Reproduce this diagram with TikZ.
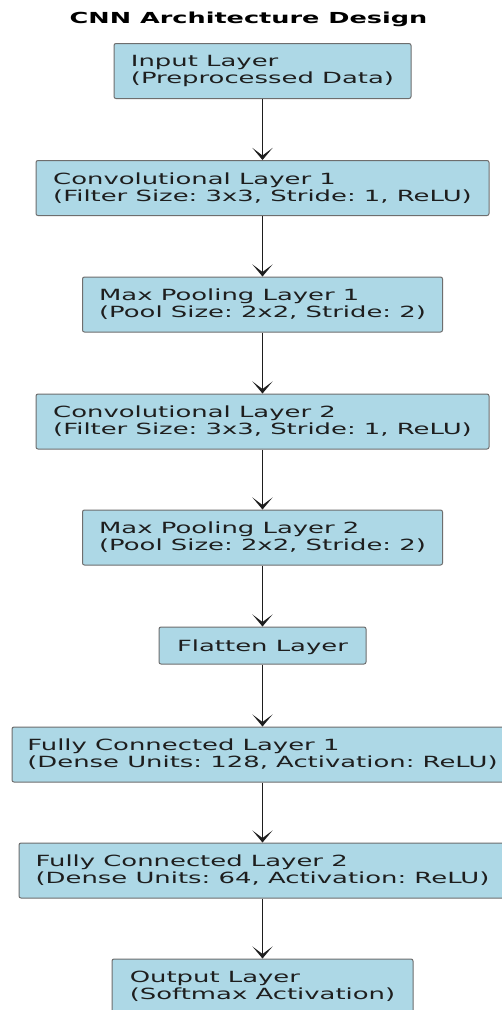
\documentclass[tikz,border=0pt]{standalone}
\usepackage{fontspec}
\setmainfont{DejaVu Sans}[FakeStretch=1.68]
\frenchspacing
\usetikzlibrary{arrows.meta}
\definecolor{boxfill}{HTML}{ADD8E6}
\definecolor{boxline}{HTML}{6E6E6E}
\definecolor{ink}{HTML}{1E1E1E}
\tikzset{
  layer/.style={draw=boxline, fill=boxfill, line width=1pt, rounded corners=2pt,
    minimum height=55pt, align=left, text=ink, inner sep=0pt,
    font=\fontsize{15.4}{17}\selectfont,
    execute at begin node={\rule{0pt}{15pt}}},
  flow/.style={draw=ink, line width=1.6pt,
    -{Stealth[length=12pt,width=20pt,inset=7.5pt]}},
}
\begin{document}
\begin{tikzpicture}[x=1pt,y=-1pt]
\useasboundingbox (0,0) rectangle (502,1010);
\clip (0,0) rectangle (502,1010);
\fill[white] (0,0) rectangle (502,1010);

\node[font=\bfseries\fontsize{15.2}{17}\selectfont, anchor=base, text=black, inner sep=0pt]
  (title) at (248.5,23.3) {CNN Architecture Design};

\node[layer, minimum width=297pt] (in) at (262.5,71)
  {Input Layer\\(Preprocessed Data)};
\node[layer, minimum width=453pt] (c1) at (262.5,188)
  {Convolutional Layer 1\\(Filter Size: 3x3, Stride: 1, ReLU)};
\node[layer, minimum width=360pt] (p1) at (262.5,304.5)
  {Max Pooling Layer 1\\(Pool Size: 2x2, Stride: 2)};
\node[layer, minimum width=453pt] (c2) at (262.5,421.5)
  {Convolutional Layer 2\\(Filter Size: 3x3, Stride: 1, ReLU)};
\node[layer, minimum width=360pt] (p2) at (262.5,537.5)
  {Max Pooling Layer 2\\(Pool Size: 2x2, Stride: 2)};
\node[layer, minimum width=207pt, minimum height=37pt, align=center] (fl) at (262.5,645.5)
  {Flatten Layer};
\node[layer, minimum width=501pt] (fc1) at (262.5,754.5)
  {Fully Connected Layer 1\\(Dense Units: 128, Activation: ReLU)};
\node[layer, minimum width=487pt] (fc2) at (262.5,870.5)
  {Fully Connected Layer 2\\(Dense Units: 64, Activation: ReLU)};
\node[layer, minimum width=301pt] (out) at (262.5,986.5)
  {Output Layer\\(Softmax Activation)};

\draw[flow] (in.south) -- (c1.north);
\draw[flow] (c1.south) -- (p1.north);
\draw[flow] (p1.south) -- (c2.north);
\draw[flow] (c2.south) -- (p2.north);
\draw[flow] (p2.south) -- (fl.north);
\draw[flow] (fl.south) -- (fc1.north);
\draw[flow] (fc1.south) -- (fc2.north);
\draw[flow] (fc2.south) -- (out.north);
\end{tikzpicture}
\end{document}
